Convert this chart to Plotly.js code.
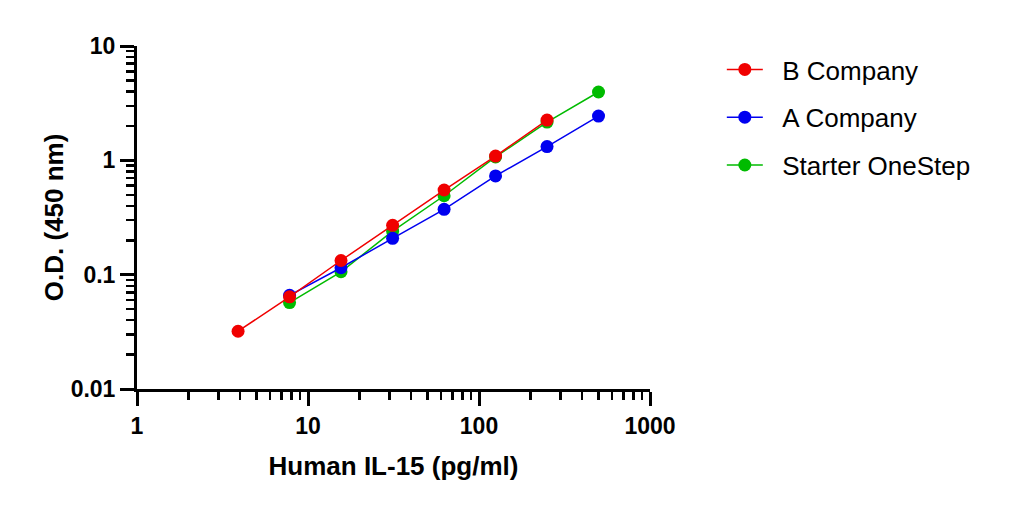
<!DOCTYPE html>
<html>
<head>
<meta charset="utf-8">
<script src="https://cdn.plot.ly/plotly-3.0.1.min.js"></script>
<style>
  html, body { margin: 0; padding: 0; background: #fff; }
  #chart { width: 1015px; height: 507px; }
</style>
</head>
<body>
<div id="chart"></div>
<script>
// concentrations (pg/ml), 2-fold dilution series
const concB = [3.9, 7.8, 15.6, 31.25, 62.5, 125, 250];
const concA = [7.8, 15.6, 31.25, 62.5, 125, 250, 500];
const concS = [7.8, 15.6, 31.25, 62.5, 125, 250, 500];

// O.D. readings at 450 nm
const odB = [0.032, 0.064, 0.133, 0.27, 0.55, 1.09, 2.25];
const odA = [0.066, 0.115, 0.208, 0.373, 0.73, 1.32, 2.44];
const odS = [0.057, 0.106, 0.24, 0.49, 1.07, 2.16, 3.96];

const seriesNames = ['B Company', 'A Company', 'Starter OneStep'];
const seriesColors = ['#f00000', '#0000f0', '#00bb00'];

const font = 'Liberation Sans, Arial, sans-serif';

function series(x, y, i) {
    return {
        x: x,
        y: y,
        // two nbsp to push the legend text away from the symbol like the original
        name: '\u00a0\u00a0' + seriesNames[i],
        legendgroup: 'g' + i,
        legendrank: i + 1,
        type: 'scatter',
        mode: 'lines+markers',
        line: { color: seriesColors[i], width: 1.5 },
        marker: { color: seriesColors[i], size: 13 },
        cliponaxis: false,
    };
}

// drawn green, blue, red so the red one sits on top; legendrank keeps B first
const data = [
    series(concS, odS, 2),
    series(concA, odA, 1),
    series(concB, odB, 0),
];

const axisCommon = {
    type: 'log',
    showgrid: false,
    zeroline: false,
    showline: true,
    linecolor: '#000',
    linewidth: 3,
    ticks: 'outside',
    ticklen: 14,
    tickwidth: 3,
    tickcolor: '#000',
    tickmode: 'linear',
    tick0: 0,
    dtick: 1,
    tickfont: { family: font, size: 23, color: '#000', weight: 'bold' },
    minor: { dtick: 'D1', ticks: 'outside', ticklen: 8, tickwidth: 2.5, tickcolor: '#000', showgrid: false },
};

const layout = {
    width: 1015,
    height: 507,
    margin: { l: 137, r: 365, t: 46, b: 118 },
    paper_bgcolor: '#fff',
    plot_bgcolor: '#fff',
    showlegend: true,
    legend: {
        x: 1.14, y: 1.0, xanchor: 'left', yanchor: 'top',
        traceorder: 'grouped',
        font: { family: font, size: 26, color: '#000' },
        tracegroupgap: 11,
        itemwidth: 36,
    },
    xaxis: Object.assign({}, axisCommon, {
        range: [0, 3],
        ticklabelstandoff: 0,
        title: { text: 'Human IL-15 (pg/ml)', font: { family: font, size: 26, color: '#000', weight: 'bold' }, standoff: 20 },
    }),
    yaxis: Object.assign({}, axisCommon, {
        range: [-2, 1],
        ticklabelstandoff: 0,
        title: { text: 'O.D. (450 nm)', font: { family: font, size: 26, color: '#000', weight: 'bold' }, standoff: 0 },
    }),
};

Plotly.newPlot('chart', data, layout, { displayModeBar: false, staticPlot: true });
</script>
</body>
</html>
